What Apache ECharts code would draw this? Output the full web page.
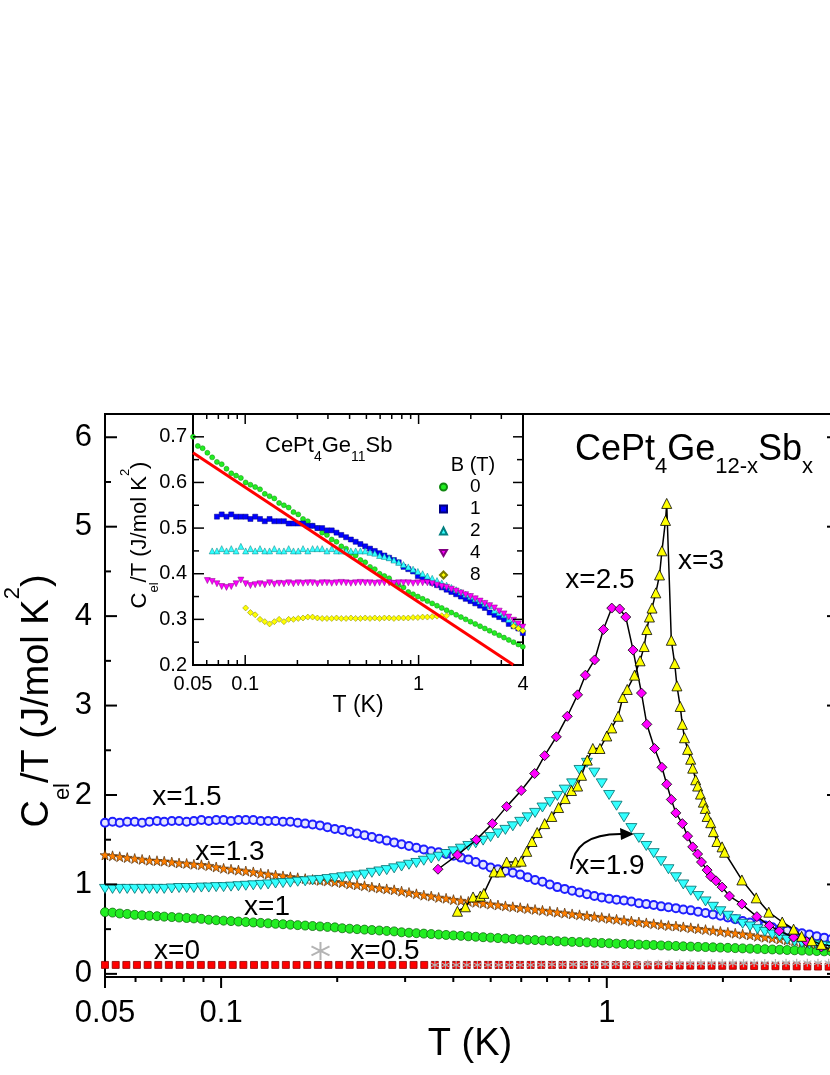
<!DOCTYPE html>
<html>
<head>
<meta charset="utf-8">
<script src="https://cdn.jsdelivr.net/npm/echarts@6/dist/echarts.min.js"></script>
<style>
html,body{margin:0;padding:0;background:#fff;}
#c{width:830px;height:1075px;}
</style>
</head>
<body>
<div id="c"></div>
<script>
// ---------------- data ----------------
const TG = [0.050,0.0533,0.0568,0.0605,0.0645,0.0687,0.0732,0.0780,0.0831,0.0886,0.0944,0.1006,0.1072,0.1142,0.1217,0.1297,0.1382,0.1472,0.1569,0.1672,0.1781,0.1898,0.2023,0.2155,0.2297,0.2447,0.2608,0.2779,0.2961,0.3155,0.3362,0.3583,0.3818,0.4068,0.4335,0.4619,0.4922,0.5245,0.5589,0.5956,0.6347,0.6763,0.7206,0.7679,0.8183,0.8719,0.9291,0.9901,1.055,1.124,1.198,1.277,1.360,1.450,1.545,1.646,1.754,1.869,1.992,2.122,2.262,2.410,2.568,2.737,2.916,3.107,3.311,3.528,3.760,3.990];
const TD = [0.0500,0.0523,0.0546,0.0571,0.0597,0.0624,0.0652,0.0682,0.0712,0.0745,0.0778,0.0814,0.0850,0.0889,0.0929,0.0971,0.1015,0.1061,0.1109,0.1159,0.1212,0.1267,0.1324,0.1384,0.1447,0.1512,0.1580,0.1652,0.1727,0.1805,0.1887,0.1972,0.2061,0.2154,0.2252,0.2354,0.2460,0.2572,0.2688,0.2810,0.2937,0.3070,0.3209,0.3354,0.3506,0.3665,0.3831,0.4004,0.4185,0.4375,0.4573,0.4780,0.4996,0.5222,0.5459,0.5706,0.5964,0.6234,0.6516,0.6811,0.7119,0.7442,0.7778,0.8130,0.8498,0.8883,0.9285,0.9703,1.014,1.060,1.108,1.158,1.211,1.266,1.323,1.383,1.445,1.511,1.579,1.651,1.725,1.803,1.885,1.970,2.060,2.153,2.250,2.352,2.459,2.570,2.686,2.808,2.935,3.068,3.206,3.352,3.503,3.662,3.828,3.990];

const X0_V = [0.10,0.10,0.10,0.10,0.10,0.10,0.10,0.10,0.10,0.10,0.10,0.10,0.10,0.10,0.10,0.10,0.10,0.10,0.10,0.10,0.10,0.10,0.10,0.10,0.10,0.10,0.10,0.10,0.10,0.10,0.10,0.10,0.10,0.10,0.10,0.10,0.10,0.10,0.10,0.10,0.10,0.10,0.10,0.10,0.10,0.10,0.10,0.10,0.098,0.097,0.096,0.095,0.095,0.094,0.093,0.092,0.092,0.091,0.090,0.090,0.089,0.088,0.087,0.086,0.085,0.084,0.083,0.082,0.081,0.080];
const X05_T = TG.slice(31);
const X05_V = [0.10,0.10,0.10,0.10,0.10,0.10,0.10,0.10,0.10,0.10,0.102,0.104,0.105,0.106,0.107,0.108,0.109,0.11,0.11,0.111,0.112,0.113,0.114,0.115,0.116,0.117,0.118,0.119,0.12,0.12,0.121,0.122,0.122,0.123,0.124,0.124,0.125,0.125,0.125];
const X1_V = [0.69,0.685,0.675,0.67,0.66,0.655,0.65,0.645,0.64,0.635,0.63,0.625,0.62,0.615,0.605,0.60,0.595,0.59,0.585,0.58,0.575,0.57,0.565,0.56,0.555,0.55,0.545,0.54,0.535,0.53,0.525,0.52,0.51,0.505,0.50,0.495,0.49,0.485,0.48,0.475,0.465,0.46,0.455,0.45,0.445,0.44,0.435,0.43,0.425,0.42,0.415,0.41,0.405,0.40,0.395,0.39,0.385,0.38,0.378,0.374,0.37,0.366,0.362,0.358,0.355,0.352,0.348,0.345,0.342,0.338,0.335,0.332,0.328,0.325,0.322,0.318,0.315,0.312,0.308,0.305,0.302,0.30,0.297,0.294,0.291,0.288,0.285,0.282,0.279,0.276,0.273,0.27,0.267,0.264,0.261,0.258,0.255,0.252,0.249,0.246];
const X13_V = [1.33,1.32,1.31,1.30,1.29,1.28,1.27,1.265,1.26,1.25,1.24,1.235,1.225,1.22,1.21,1.195,1.18,1.17,1.16,1.15,1.14,1.125,1.115,1.105,1.095,1.085,1.075,1.065,1.055,1.045,1.04,1.03,1.02,1.005,0.995,0.985,0.97,0.96,0.95,0.94,0.925,0.91,0.895,0.88,0.87,0.855,0.845,0.83,0.82,0.81,0.80,0.79,0.78,0.77,0.76,0.75,0.74,0.73,0.72,0.71,0.70,0.69,0.68,0.67,0.66,0.65,0.64,0.63,0.62,0.61,0.60,0.59,0.58,0.57,0.56,0.55,0.54,0.535,0.525,0.515,0.505,0.495,0.485,0.475,0.465,0.455,0.445,0.435,0.42,0.41,0.40,0.39,0.38,0.37,0.36,0.35,0.34,0.325,0.315,0.30];
const X15_V = [1.69,1.70,1.69,1.70,1.70,1.69,1.70,1.71,1.70,1.71,1.71,1.70,1.71,1.72,1.71,1.72,1.72,1.71,1.72,1.72,1.72,1.71,1.71,1.71,1.70,1.70,1.69,1.68,1.67,1.66,1.64,1.62,1.61,1.59,1.57,1.55,1.53,1.51,1.49,1.47,1.45,1.43,1.41,1.39,1.37,1.36,1.34,1.32,1.30,1.28,1.25,1.22,1.19,1.17,1.15,1.13,1.11,1.08,1.05,1.03,1.00,0.97,0.95,0.93,0.91,0.89,0.87,0.855,0.84,0.83,0.82,0.81,0.79,0.78,0.77,0.755,0.745,0.735,0.72,0.71,0.695,0.68,0.665,0.65,0.63,0.61,0.59,0.575,0.56,0.54,0.52,0.50,0.485,0.47,0.455,0.44,0.42,0.405,0.39,0.37];
const X19_V = [0.95,0.95,0.95,0.95,0.95,0.95,0.95,0.95,0.95,0.955,0.96,0.96,0.96,0.965,0.965,0.97,0.97,0.975,0.98,0.985,0.99,0.995,1.00,1.01,1.015,1.02,1.03,1.035,1.045,1.05,1.06,1.07,1.08,1.09,1.10,1.11,1.13,1.145,1.16,1.18,1.20,1.22,1.24,1.265,1.29,1.31,1.34,1.37,1.40,1.43,1.46,1.49,1.53,1.57,1.61,1.65,1.70,1.75,1.80,1.86,1.92,1.99,2.06,2.13,2.28,2.36,2.25,2.13,2.00,1.88,1.75,1.63,1.52,1.43,1.35,1.26,1.17,1.08,1.00,0.93,0.87,0.81,0.75,0.70,0.65,0.61,0.56,0.53,0.50,0.47,0.44,0.415,0.38,0.36,0.345,0.33,0.32,0.31,0.30,0.29];
const X25_T = [0.365,0.41,0.459,0.505,0.55,0.60,0.65,0.69,0.74,0.79,0.84,0.88,0.93,0.98,1.03,1.08,1.12,1.17,1.23,1.27,1.33,1.39,1.43,1.47,1.51,1.57,1.62,1.67,1.72,1.76,1.82,1.86,1.92,1.99,2.08,2.24,2.45,2.64,2.8,3.05,3.3,3.6,3.95];
const X25_V = [1.17,1.33,1.50,1.68,1.87,2.05,2.24,2.44,2.65,2.88,3.12,3.34,3.51,3.85,4.09,4.08,3.99,3.62,3.14,2.79,2.52,2.31,2.12,1.95,1.80,1.68,1.54,1.42,1.34,1.25,1.16,1.09,1.04,0.97,0.87,0.78,0.64,0.54,0.48,0.41,0.36,0.30,0.27];
const X3_T = [0.41,0.43,0.45,0.47,0.48,0.51,0.53,0.55,0.58,0.60,0.62,0.64,0.66,0.69,0.72,0.75,0.78,0.81,0.84,0.86,0.89,0.92,0.96,1.00,1.03,1.07,1.10,1.13,1.18,1.22,1.25,1.27,1.29,1.31,1.34,1.37,1.39,1.42,1.43,1.47,1.50,1.52,1.55,1.57,1.59,1.62,1.65,1.67,1.70,1.72,1.75,1.78,1.80,1.82,1.86,1.89,1.93,1.99,2.02,2.24,2.44,2.63,2.85,3.05,3.2,3.4,3.6,3.85];
const X3_V = [0.70,0.75,0.86,0.87,0.90,1.14,1.14,1.25,1.25,1.26,1.37,1.48,1.58,1.68,1.76,1.86,1.96,2.05,2.10,2.22,2.39,2.52,2.52,2.66,2.75,2.88,3.09,3.18,3.34,3.50,3.66,3.85,3.99,4.09,4.26,4.46,4.73,5.07,5.26,3.73,3.47,3.22,2.99,2.79,2.64,2.51,2.40,2.30,2.17,2.10,2.01,1.92,1.85,1.76,1.69,1.59,1.48,1.42,1.36,1.05,0.85,0.69,0.58,0.50,0.42,0.37,0.33,0.31];

// inset (CePt4Ge11Sb in field B)
const IN_B0_V = [0.70,0.68,0.675,0.665,0.655,0.645,0.64,0.63,0.62,0.615,0.61,0.60,0.595,0.59,0.585,0.575,0.57,0.565,0.555,0.55,0.545,0.535,0.53,0.52,0.515,0.505,0.50,0.49,0.485,0.475,0.47,0.46,0.455,0.445,0.44,0.43,0.425,0.415,0.41,0.40,0.395,0.39,0.38,0.375,0.37,0.36,0.355,0.35,0.345,0.34,0.335,0.33,0.325,0.32,0.315,0.31,0.305,0.30,0.295,0.29,0.285,0.28,0.275,0.27,0.265,0.26,0.255,0.25,0.245,0.24];
const IN_B1_T = TG.slice(5);
const IN_B1_V = [0.525,0.53,0.525,0.53,0.525,0.525,0.525,0.52,0.525,0.52,0.515,0.52,0.515,0.515,0.515,0.51,0.51,0.51,0.51,0.505,0.505,0.50,0.50,0.495,0.495,0.49,0.485,0.48,0.475,0.47,0.465,0.46,0.455,0.45,0.445,0.44,0.435,0.43,0.425,0.415,0.41,0.405,0.395,0.39,0.385,0.38,0.375,0.37,0.365,0.36,0.355,0.35,0.345,0.34,0.335,0.33,0.325,0.315,0.31,0.305,0.30,0.29,0.285,0.28,0.27];
const IN_B2_T = TG.slice(4);
const IN_B2_V = [0.45,0.45,0.455,0.45,0.455,0.45,0.46,0.45,0.455,0.45,0.455,0.45,0.45,0.455,0.45,0.45,0.455,0.45,0.45,0.455,0.45,0.455,0.455,0.455,0.45,0.455,0.45,0.45,0.45,0.45,0.45,0.45,0.45,0.447,0.445,0.44,0.438,0.435,0.43,0.425,0.42,0.415,0.41,0.405,0.40,0.395,0.39,0.385,0.38,0.375,0.37,0.365,0.36,0.355,0.35,0.345,0.34,0.335,0.33,0.32,0.315,0.31,0.30,0.295,0.29,0.28];
const IN_B4_T = TG.slice(3);
const IN_B4_V = [0.385,0.383,0.378,0.372,0.37,0.372,0.378,0.386,0.378,0.374,0.376,0.378,0.376,0.38,0.377,0.379,0.378,0.38,0.378,0.38,0.379,0.38,0.38,0.378,0.38,0.38,0.379,0.38,0.381,0.38,0.379,0.38,0.381,0.38,0.38,0.379,0.38,0.38,0.38,0.379,0.38,0.38,0.38,0.379,0.38,0.38,0.38,0.378,0.375,0.372,0.37,0.366,0.362,0.358,0.354,0.35,0.345,0.34,0.335,0.33,0.325,0.318,0.312,0.305,0.298,0.29,0.283];
const IN_B8_T = TG.slice(11);
const IN_B8_V = [0.325,0.315,0.31,0.30,0.295,0.29,0.295,0.30,0.295,0.30,0.30,0.302,0.303,0.305,0.305,0.303,0.302,0.302,0.302,0.303,0.302,0.302,0.303,0.302,0.302,0.303,0.302,0.303,0.302,0.303,0.303,0.302,0.303,0.303,0.303,0.304,0.304,0.305,0.305,0.306,0.307,0.308,0.308,null,null,null,null,null,null,null,null,null,null,null,null,null,0.285,0.28,0.275];
const FIT_T = [0.05, 3.53];
const FIT_V = [0.665, 0.20];

// tick values / labels
const MAIN_Y_TICKS = [0,1,2,3,4,5,6];
const MAIN_Y_MINOR = [0.5,1.5,2.5,3.5,4.5,5.5];
const IN_Y_TICKS = [0.2,0.3,0.4,0.5,0.6,0.7];
const IN_Y_MINOR = [0.25,0.35,0.45,0.55,0.65];
const X_MAJOR = [0.05,0.1,1,4];
const X_MINOR = [0.06,0.07,0.08,0.09,0.2,0.3,0.4,0.5,0.6,0.7,0.8,0.9,2,3];
const INSET_LEGEND = ['0','1','2','4','8'];

// ---------------- styles ----------------
const F = '"Liberation Sans", Arial, Helvetica, sans-serif';
const pairs = (ts, vs) => ts.map((t, i) => [t, vs[i]]).filter(p => p[1] != null);
const STAR = 'path://M10,0L12.35,6.76L19.51,6.91L13.80,11.24L15.88,18.09L10,14L4.12,18.09L6.20,11.24L0.49,6.91L7.65,6.76Z';
const DTRI = 'path://M0,0L10,0L5,8.66Z';
const AST = 'path://M10,0L10,20M1.34,5L18.66,15M1.34,15L18.66,5';
const MAIN = {l: 105, t: 414, w: 734, h: 563};
const INS = {l: 193, t: 414, w: 330, h: 251};

const chart = echarts.init(document.getElementById('c'), null, {renderer: 'canvas'});

const noTick = {show: false};
const xAxes = [
  {type: 'log', logBase: 10, gridIndex: 0, position: 'bottom', min: 0.05, max: 4,
   axisLine: {show: true, onZero: false, lineStyle: {color: '#000', width: 2}},
   axisTick: noTick, minorTick: {show: false}, splitLine: {show: false},
   axisLabel: {fontSize: 31, color: '#000', margin: 21, fontFamily: F}},
  {type: 'log', logBase: 10, gridIndex: 1, position: 'bottom', min: 0.05, max: 4,
   axisLine: {show: true, onZero: false, lineStyle: {color: '#000', width: 2}},
   axisTick: noTick, minorTick: {show: false}, splitLine: {show: false},
   axisLabel: {fontSize: 20, color: '#000', margin: 9, fontFamily: F}}
];
const yAxes = [
  {type: 'value', gridIndex: 0, position: 'left', min: -0.035, max: 6.26,
   axisLine: {show: true, onZero: false, lineStyle: {color: '#000', width: 2}},
   axisTick: noTick, splitLine: {show: false},
   axisLabel: {customValues: MAIN_Y_TICKS, fontSize: 31, color: '#000', margin: 13, fontFamily: F}},
  {type: 'value', gridIndex: 1, position: 'left', min: 0.2, max: 0.75,
   axisLine: {show: true, onZero: false, lineStyle: {color: '#000', width: 2}},
   axisTick: noTick, splitLine: {show: false},
   axisLabel: {customValues: IN_Y_TICKS, fontSize: 20, color: '#000', margin: 6, fontFamily: F}}
];

function sc(name, data, symbol, size, color, border, bw, xi, yi, extra) {
  return Object.assign({
    type: 'scatter', name, data, symbol, symbolSize: size,
    xAxisIndex: xi, yAxisIndex: yi,
    itemStyle: {color, borderColor: border, borderWidth: bw, opacity: 1},
    emphasis: {disabled: true}, silent: true, animation: false
  }, extra || {});
}

const series = [
  sc('x=0', pairs(TG, X0_V), 'rect', 7, '#ff0000', '#8a0000', 0.8, 0, 0),
  sc('x=0.5', pairs(X05_T, X05_V), AST, 8, 'rgba(0,0,0,0)', '#b4b4b4', 1.2, 0, 0, {
    markPoint: {silent: true, animation: false, symbol: AST, symbolSize: 18,
      itemStyle: {color: 'rgba(0,0,0,0)', borderColor: '#b4b4b4', borderWidth: 2},
      label: {show: false}, data: [{coord: [0.181, 0.257]}]}
  }),
  sc('x=1', pairs(TD, X1_V), 'circle', 9, '#22ee22', '#0f6a0f', 0.8, 0, 0),
  sc('x=1.3', pairs(TD, X13_V), STAR, 10, '#ff7f00', '#3a1e00', 0.6, 0, 0),
  sc('x=1.5', pairs(TD, X15_V), 'circle', 8, '#e4e6ff', '#1f1fff', 2, 0, 0),
  sc('x=1.9', pairs(TD, X19_V), DTRI, [11, 9], '#33ffff', '#006a6a', 0.8, 0, 0),
  {type: 'line', name: 'x=2.5', data: pairs(X25_T, X25_V), xAxisIndex: 0, yAxisIndex: 0,
   symbol: 'diamond', symbolSize: 10, showSymbol: true, showAllSymbol: true,
   lineStyle: {color: '#000', width: 1.5}, itemStyle: {color: '#ff00ff', borderColor: '#000', borderWidth: 0.8},
   emphasis: {disabled: true}, silent: true, animation: false},
  {type: 'line', name: 'x=3', data: pairs(X3_T, X3_V), xAxisIndex: 0, yAxisIndex: 0,
   symbol: 'triangle', symbolSize: 10, showSymbol: true, showAllSymbol: true,
   lineStyle: {color: '#000', width: 1.5}, itemStyle: {color: '#ffff00', borderColor: '#000', borderWidth: 0.8},
   emphasis: {disabled: true}, silent: true, animation: false},
  sc('0', pairs(TG, IN_B0_V), 'circle', 5, '#22ee22', '#118811', 0.5, 1, 1),
  sc('1', pairs(IN_B1_T, IN_B1_V), 'rect', 5, '#0000ff', '#000080', 0.5, 1, 1),
  sc('2', pairs(IN_B2_T, IN_B2_V), 'triangle', 6, '#33ffff', '#008080', 0.5, 1, 1),
  sc('4', pairs(IN_B4_T, IN_B4_V), DTRI, 6, '#ff00ff', '#800080', 0.5, 1, 1),
  sc('8', pairs(IN_B8_T, IN_B8_V), 'diamond', 6, '#ffff00', '#7a7a00', 0.5, 1, 1),
  {type: 'line', name: 'fit', data: pairs(FIT_T, FIT_V), xAxisIndex: 1, yAxisIndex: 1,
   showSymbol: false, symbol: 'none', lineStyle: {color: '#ff0000', width: 3}, z: 5,
   emphasis: {disabled: true}, silent: true, animation: false}
];

chart.setOption({
  animation: false,
  backgroundColor: '#fff',
  textStyle: {fontFamily: F},
  grid: [
    {left: MAIN.l, top: MAIN.t, width: MAIN.w, height: MAIN.h, show: true, borderColor: '#000', borderWidth: 2, backgroundColor: 'rgba(0,0,0,0)', containLabel: false, outerBoundsMode: 'none'},
    {left: INS.l, top: INS.t, width: INS.w, height: INS.h, show: true, borderColor: '#000', borderWidth: 2, backgroundColor: '#fff', containLabel: false, outerBoundsMode: 'none'}
  ],
  legend: {
    data: INSET_LEGEND, orient: 'vertical', left: 434, top: 471, itemWidth: 7, itemHeight: 7, itemGap: 0,
    selectedMode: false, inactiveColor: '#000',
    textStyle: {fontSize: 19, lineHeight: 22, fontFamily: F, color: '#000', padding: [0, 0, 0, 18]}
  },
  tooltip: {show: false},
  xAxis: xAxes,
  yAxis: yAxes,
  series
});

// ---------------- ticks: positions taken from the axes' own scales ----------------
function toPix(dim, axisIndex, seriesIndex, v, other) {
  let r = NaN;
  try {
    const p = chart.convertToPixel({seriesIndex: seriesIndex}, dim === 'x' ? [v, other] : [other, v]);
    if (p && isFinite(p[dim === 'x' ? 0 : 1])) r = p[dim === 'x' ? 0 : 1];
  } catch (e) {}
  if (!isFinite(r)) {
    try {
      const ax = chart.getModel().getComponent(dim === 'x' ? 'xAxis' : 'yAxis', axisIndex).axis;
      r = ax.toGlobalCoord(ax.dataToCoord(v));
    } catch (e) {}
  }
  return r;
}
const g = [];
const vtick = (x, ya, yb, w) => {
  if (![x, ya, yb].every(isFinite)) return;
  g.push({type: 'rect', silent: true, z: 60, shape: {x: x - w / 2, y: Math.min(ya, yb), width: w, height: Math.abs(yb - ya)}, style: {fill: '#000'}});
};
const htick = (y, xa, xb, w) => {
  if (![y, xa, xb].every(isFinite)) return;
  g.push({type: 'rect', silent: true, z: 60, shape: {x: Math.min(xa, xb), y: y - w / 2, width: Math.abs(xb - xa), height: w}, style: {fill: '#000'}});
};
const mb = MAIN.t + MAIN.h, mr = MAIN.l + MAIN.w;
const ib = INS.t + INS.h, ir = INS.l + INS.w;
const mx = v => toPix('x', 0, 0, v, 1), my = v => toPix('y', 0, 0, v, 1);
const ix = v => toPix('x', 1, 8, v, 0.5), iy = v => toPix('y', 1, 8, v, 1);
X_MAJOR.forEach(v => vtick(mx(v), mb, mb + 11, 2));
X_MINOR.forEach(v => vtick(mx(v), mb, mb + 5, 2));
MAIN_Y_TICKS.forEach(v => { const y = my(v); htick(y, MAIN.l, MAIN.l + 12, 2); htick(y, mr - 12, mr, 2); });
MAIN_Y_MINOR.forEach(v => { const y = my(v); htick(y, MAIN.l, MAIN.l + 6, 2); htick(y, mr - 6, mr, 2); });
X_MAJOR.forEach(v => { const x = ix(v); vtick(x, ib - 10, ib, 1.5); vtick(x, INS.t, INS.t + 10, 1.5); });
X_MINOR.forEach(v => { const x = ix(v); vtick(x, ib - 5, ib, 1.5); vtick(x, INS.t, INS.t + 5, 1.5); });
IN_Y_TICKS.forEach(v => { const y = iy(v); htick(y, INS.l, INS.l + 11, 1.5); htick(y, ir - 10, ir, 1.5); });
IN_Y_MINOR.forEach(v => { const y = iy(v); htick(y, INS.l, INS.l + 6, 1.5); htick(y, ir - 6, ir, 1.5); });

// ---------------- texts ----------------
const txt = (x, y, text, size, extra) => ({type: 'text', x, y, silent: true, z: 100,
  style: Object.assign({text, fontSize: size, fontFamily: F, fill: '#000', align: 'center', verticalAlign: 'middle'}, extra || {})});

const texts = [
  {type: 'text', x: 38, y: 701, rotation: Math.PI / 2, silent: true, z: 100,
   style: {text: '{n|C}{s|el}{n|/T (J/mol K}{p|2}{n|)}', align: 'center', verticalAlign: 'middle', fontFamily: F, fontSize: 38,
     rich: {n: {fontSize: 38, lineHeight: 72, fontFamily: F, fill: '#000'},
            s: {fontSize: 22, lineHeight: 16, verticalAlign: 'bottom', fontFamily: F, fill: '#000'},
            p: {fontSize: 22, lineHeight: 20, verticalAlign: 'top', fontFamily: F, fill: '#000'}}}},
  txt(470, 1045, 'T (K)', 38),
  {type: 'text', x: 575, y: 450, silent: true, z: 100,
   style: {text: '{n|CePt}{s|4}{n|Ge}{s|12-x}{n|Sb}{s|x}', align: 'left', verticalAlign: 'middle', fontFamily: F, fontSize: 36,
     rich: {n: {fontSize: 36, lineHeight: 56, fontFamily: F, fill: '#000'},
            s: {fontSize: 22, lineHeight: 16, verticalAlign: 'bottom', fontFamily: F, fill: '#000'}}}},
  txt(187, 797, 'x=1.5', 28),
  txt(230, 852, 'x=1.3', 28),
  txt(267, 907, 'x=1', 28),
  txt(177, 951, 'x=0', 28),
  txt(385, 951, 'x=0.5', 28),
  txt(610, 866, 'x=1.9', 28),
  txt(600, 580, 'x=2.5', 28),
  txt(701, 561, 'x=3', 28),
  {type: 'bezierCurve', silent: true, z: 100, shape: {x1: 571, y1: 869, x2: 623, y2: 834, cpx1: 574, cpy1: 833},
   style: {stroke: '#000', lineWidth: 2, fill: null}},
  {type: 'polygon', silent: true, z: 100, shape: {points: [[634, 834], [620, 828], [621, 840]]}, style: {fill: '#000'}},
  {type: 'text', x: 140, y: 535, rotation: Math.PI / 2, silent: true, z: 100,
   style: {text: '{n|C}{s|el}{n|/T (J/mol K}{p|2}{n|)}', align: 'center', verticalAlign: 'middle', fontFamily: F, fontSize: 22,
     rich: {n: {fontSize: 22, lineHeight: 42, fontFamily: F, fill: '#000'},
            s: {fontSize: 13, lineHeight: 10, verticalAlign: 'bottom', fontFamily: F, fill: '#000'},
            p: {fontSize: 13, lineHeight: 12, verticalAlign: 'top', fontFamily: F, fill: '#000'}}}},
  txt(358, 706, 'T (K)', 23),
  {type: 'text', x: 265, y: 446, silent: true, z: 100,
   style: {text: '{n|CePt}{s|4}{n|Ge}{s|11}{n|Sb}', align: 'left', verticalAlign: 'middle', fontFamily: F, fontSize: 22,
     rich: {n: {fontSize: 22, lineHeight: 36, fontFamily: F, fill: '#000'},
            s: {fontSize: 14, lineHeight: 12, verticalAlign: 'bottom', fontFamily: F, fill: '#000'}}}},
  txt(473, 465, 'B (T)', 20)
];

chart.setOption({graphic: {elements: texts.concat(g)}});
</script>
</body>
</html>
